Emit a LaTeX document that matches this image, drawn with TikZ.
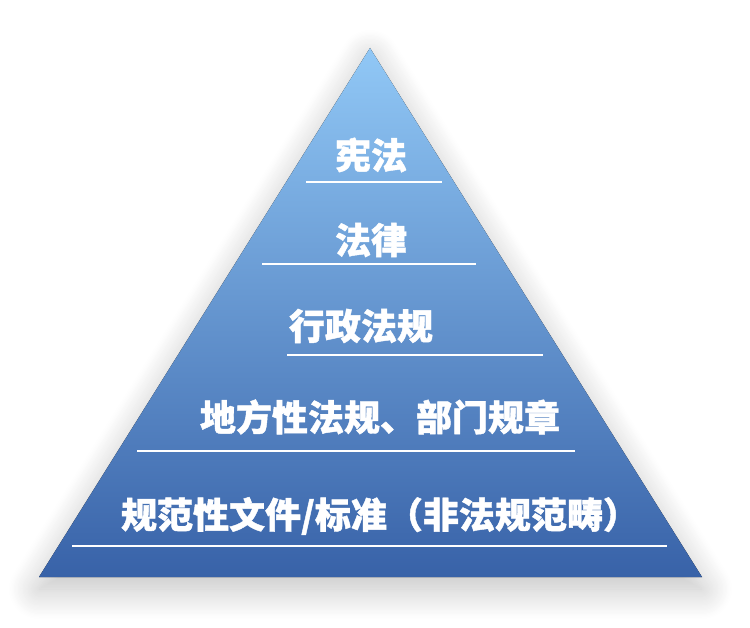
\documentclass[tikz,border=0pt]{standalone}
\usepackage{fontspec}
\newfontfamily\cjk{Noto Sans CJK SC}[BoldFeatures={FakeBold=1.2}]
\usetikzlibrary{shadows.blur}
\definecolor{topc}{RGB}{145,200,246}
\definecolor{midc}{RGB}{74,136,214}
\definecolor{botc}{RGB}{56,98,168}
\tikzset{
  tier/.style={text=white, font=\cjk\bfseries\fontsize{36}{40}\selectfont, inner sep=0pt, anchor=center},
  rule/.style={draw=white, line width=1.8pt}
}
\begin{document}
\begin{tikzpicture}[x=1pt,y=-1pt]
\useasboundingbox (0,0) rectangle (750,628);
\coordinate (tip) at (370,48);
\coordinate (bl) at (39,577);
\coordinate (br) at (702,577);
\fill[top color=topc, middle color=midc, bottom color=botc,
  blur shadow={shadow xshift=0pt, shadow yshift=-12pt, shadow blur radius=30pt, shadow blur steps=25, shadow opacity=25}]
  (tip) -- (bl) -- (br) -- cycle;
\coordinate (l1a) at (306,182); \coordinate (l1b) at (442,182);
\coordinate (l2a) at (262,264); \coordinate (l2b) at (476,264);
\coordinate (l3a) at (287,355); \coordinate (l3b) at (543,355);
\coordinate (l4a) at (137,451); \coordinate (l4b) at (575,451);
\coordinate (l5a) at (72,546);  \coordinate (l5b) at (667,546);
\draw[rule] (l1a) -- (l1b);
\draw[rule] (l2a) -- (l2b);
\draw[rule] (l3a) -- (l3b);
\draw[rule] (l4a) -- (l4b);
\draw[rule] (l5a) -- (l5b);
\node[tier] (t1) at (371,155) {宪法};
\node[tier] (t2) at (371,240) {法律};
\node[tier] (t3) at (361,326) {行政法规};
\node[tier] (t4) at (380,417) {地方性法规、部门规章};
\node[tier] (t5) at (380,516) {规范性文件/标准（非法规范畴）};
\end{tikzpicture}
\end{document}
